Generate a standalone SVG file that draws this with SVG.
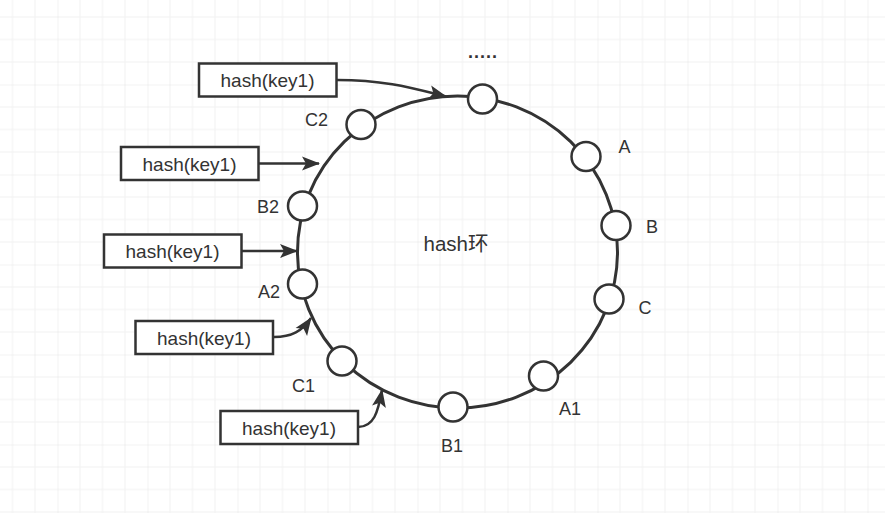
<svg xmlns="http://www.w3.org/2000/svg" width="885" height="513" viewBox="0 0 885 513">
  <defs>
    <pattern id="grid" patternUnits="userSpaceOnUse" x="57.5" y="84.5" width="90" height="90">
      <path d="M22.5 0V90M45 0V90M67.5 0V90M0 22.5H90M0 45H90M0 67.5H90" stroke="#f1f1f1" stroke-width="1" fill="none"/>
      <path d="M0 0V90M0 0H90" stroke="#e6e6e6" stroke-width="1" fill="none"/>
    </pattern>
    <marker id="arrow" markerUnits="userSpaceOnUse" markerWidth="19" markerHeight="14" refX="17" refY="7" orient="auto" overflow="visible">
      <path d="M0 0L18 7L0 14L4 7Z" fill="#333"/>
    </marker>
  </defs>
  <style>
    .box{fill:#fff;stroke:#333;stroke-width:2.5}
    .node{fill:#fff;stroke:#333;stroke-width:2.5}
    .ring{fill:none;stroke:#333;stroke-width:3}
    .edge{fill:none;stroke:#333;stroke-width:2.5;marker-end:url(#arrow)}
    text{font-family:"Liberation Sans",Arial,"Noto Sans CJK SC",sans-serif;fill:#333}
    .bt{font-size:19px;text-anchor:middle}
    .lbl{font-size:18px;text-anchor:middle}
  </style>
  <rect width="885" height="513" fill="#fff"/>
  <rect width="885" height="513" fill="url(#grid)"/>

  <g id="ring">
    <ellipse class="ring" cx="457.5" cy="252" rx="160" ry="156"/>
    <text x="456" y="251" font-size="20.5" text-anchor="middle">hash环</text>
  </g>

  <g id="connectors">
    <path class="edge" d="M337 80C385 80 412 88 446 96.5"/>
    <path class="edge" d="M259 163.5H319"/>
    <path class="edge" d="M242 251H297"/>
    <path class="edge" d="M274 337C292 337 302 331 311 318"/>
    <path class="edge" d="M358 427C374 427 378 412 382 390"/>
  </g>

  <g id="node-top"><circle class="node" cx="482.5" cy="99" r="14.5"/><text x="483" y="58" font-size="18" font-weight="bold" text-anchor="middle" letter-spacing="1">.....</text></g>
  <g id="node-A"><circle class="node" cx="586" cy="156.5" r="14.5"/><text class="lbl" x="624.5" y="153">A</text></g>
  <g id="node-B"><circle class="node" cx="616" cy="225.5" r="14.5"/><text class="lbl" x="652" y="233">B</text></g>
  <g id="node-C"><circle class="node" cx="609" cy="299" r="14.5"/><text class="lbl" x="645" y="314">C</text></g>
  <g id="node-A1"><circle class="node" cx="543.5" cy="376" r="14.5"/><text class="lbl" x="570" y="415">A1</text></g>
  <g id="node-B1"><circle class="node" cx="453" cy="407" r="14.5"/><text class="lbl" x="452" y="451.5">B1</text></g>
  <g id="node-C1"><circle class="node" cx="342" cy="361" r="14.5"/><text class="lbl" x="303.5" y="391.5">C1</text></g>
  <g id="node-A2"><circle class="node" cx="302.5" cy="284" r="14.5"/><text class="lbl" x="269" y="298">A2</text></g>
  <g id="node-B2"><circle class="node" cx="302.5" cy="206" r="14.5"/><text class="lbl" x="268" y="213">B2</text></g>
  <g id="node-C2"><circle class="node" cx="361" cy="124.5" r="14.5"/><text class="lbl" x="316.5" y="126">C2</text></g>

  <g id="key-1"><rect class="box" x="199" y="63.5" width="137.5" height="33"/><text class="bt" x="267.5" y="87">hash(key1)</text></g>
  <g id="key-2"><rect class="box" x="121" y="147" width="137.5" height="33"/><text class="bt" x="189.5" y="170.5">hash(key1)</text></g>
  <g id="key-3"><rect class="box" x="104" y="234.5" width="137.5" height="33"/><text class="bt" x="172.5" y="258">hash(key1)</text></g>
  <g id="key-4"><rect class="box" x="135.5" y="321" width="137.5" height="33"/><text class="bt" x="204" y="344.5">hash(key1)</text></g>
  <g id="key-5"><rect class="box" x="220.5" y="411" width="137.5" height="33"/><text class="bt" x="289" y="434.5">hash(key1)</text></g>
</svg>
